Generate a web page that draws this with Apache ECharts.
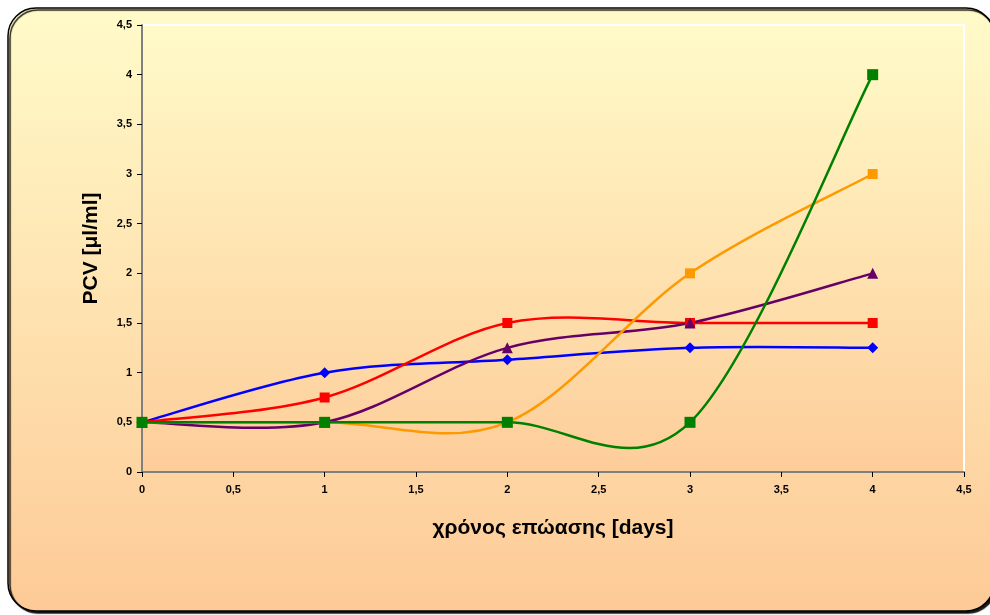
<!DOCTYPE html>
<html>
<head>
<meta charset="utf-8">
<style>
  html, body { margin: 0; padding: 0; background: #ffffff; }
  #chart { width: 990px; height: 615px; }
</style>
<script src="https://cdn.jsdelivr.net/npm/echarts@6/dist/echarts.min.js"></script>
</head>
<body>
<div id="chart"></div>
<script>
// Incubation days
const days = [0, 1, 2, 3, 4];
// PCV values [μl/ml] for each culture
const blueSeries   = [0.5, 1.0, 1.13, 1.25, 1.25];
const redSeries    = [0.5, 0.75, 1.5, 1.5, 1.5];
const purpleSeries = [0.5, 0.5, 1.25, 1.5, 2.0];
const orangeSeries = [0.5, 0.5, 0.5, 2.0, 3.0];
const greenSeries  = [0.5, 0.5, 0.5, 0.5, 4.0];

const xAxisTitle = 'χρόνος επώασης [days]';
const yAxisTitle = 'PCV [μl/ml]';

const chart = echarts.init(document.getElementById('chart'), null, { renderer: 'canvas' });

const pairs = vals => days.map((d, i) => [d, vals[i]]);
const comma = v => String(v).replace('.', ',');

// Smoothed curve (Catmull-Rom style Bezier segments) between consecutive
// data points, positioned through the axes with api.coord.
function curve(vals, color) {
  const n = vals.length;
  return {
    type: 'custom',
    data: pairs(vals),
    silent: true,
    animation: false,
    renderItem: function (params, api) {
      const i = params.dataIndex;
      if (i >= n - 1) return null;
      const pt = k => api.coord([days[Math.max(0, Math.min(n - 1, k))], vals[Math.max(0, Math.min(n - 1, k))]]);
      const p0 = pt(i - 1), p1 = pt(i), p2 = pt(i + 1), p3 = pt(i + 2);
      return {
        type: 'bezierCurve',
        shape: {
          x1: p1[0], y1: p1[1],
          cpx1: p1[0] + (p2[0] - p0[0]) / 6, cpy1: p1[1] + (p2[1] - p0[1]) / 6,
          cpx2: p2[0] - (p3[0] - p1[0]) / 6, cpy2: p2[1] - (p3[1] - p1[1]) / 6,
          x2: p2[0], y2: p2[1]
        },
        style: { stroke: color, lineWidth: 2.5, fill: null, lineCap: 'round' }
      };
    }
  };
}

function markers(vals, color, symbol, size) {
  return {
    type: 'scatter',
    data: pairs(vals),
    symbol: symbol,
    symbolSize: size,
    itemStyle: { color: color, opacity: 1 },
    emphasis: { disabled: true },
    animation: false
  };
}

const labelFont = { fontFamily: 'Liberation Sans, Arial, sans-serif', fontWeight: 'bold', fontSize: 11, color: '#000' };

chart.setOption({
  animation: false,
  graphic: [
    {
      type: 'rect',
      z: -10,
      shape: { x: 8, y: 8, width: 986, height: 603, r: 28 },
      style: {
        fill: new echarts.graphic.LinearGradient(0, 0, 0, 1, [
          { offset: 0, color: '#FFFBC9' },
          { offset: 1, color: '#FDCA97' }
        ]),
        stroke: '#000',
        lineWidth: 1.5,
        shadowColor: 'rgba(0,0,0,0.9)',
        shadowOffsetX: 2,
        shadowOffsetY: 2,
        shadowBlur: 1
      }
    }
  ],
  grid: {
    left: 142, right: 26, top: 25, bottom: 143,
    show: true,
    borderColor: '#ffffff',
    borderWidth: 2,
    backgroundColor: new echarts.graphic.LinearGradient(0, 0, 0, 1, [
      { offset: 0, color: '#FFFBC9' },
      { offset: 1, color: '#FDCD9A' }
    ])
  },
  xAxis: {
    type: 'value',
    min: 0, max: 4.5, interval: 0.5,
    name: xAxisTitle,
    nameLocation: 'middle',
    nameGap: 46,
    nameTextStyle: { fontFamily: 'Liberation Sans, Arial, sans-serif', fontWeight: 'bold', fontSize: 21, color: '#000' },
    axisLine: { show: true, onZero: false, lineStyle: { color: '#808080', width: 2 } },
    axisTick: { show: true, inside: false, length: 5, lineStyle: { color: '#000', width: 1 } },
    axisLabel: Object.assign({ margin: 12, formatter: comma }, labelFont),
    splitLine: { show: false }
  },
  yAxis: {
    type: 'value',
    min: 0, max: 4.5, interval: 0.5,
    name: yAxisTitle,
    nameLocation: 'middle',
    nameGap: 40,
    nameRotate: 90,
    nameTextStyle: { fontFamily: 'Liberation Sans, Arial, sans-serif', fontWeight: 'bold', fontSize: 21, color: '#000' },
    axisLine: { show: true, onZero: false, lineStyle: { color: '#808080', width: 2 } },
    axisTick: { show: true, inside: false, length: 5, lineStyle: { color: '#000', width: 1 } },
    axisLabel: Object.assign({ margin: 10, formatter: comma }, labelFont),
    splitLine: { show: false }
  },
  series: [
    curve(blueSeries, '#0000FF'),
    markers(blueSeries, '#0000FF', 'diamond', 11),
    curve(redSeries, '#FF0000'),
    markers(redSeries, '#FF0000', 'rect', 10),
    curve(purpleSeries, '#660066'),
    markers(purpleSeries, '#660066', 'triangle', 11),
    curve(orangeSeries, '#FF9900'),
    markers(orangeSeries, '#FF9900', 'rect', 10),
    curve(greenSeries, '#008000'),
    markers(greenSeries, '#008000', 'rect', 11)
  ]
});
</script>
</body>
</html>
